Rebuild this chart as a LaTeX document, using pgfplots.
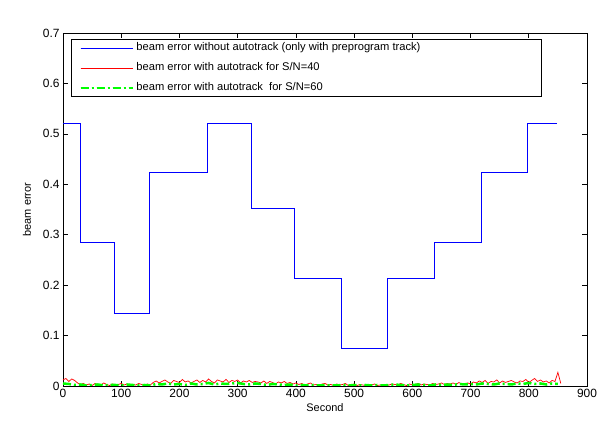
\documentclass[border=0pt]{standalone}
\usepackage{pgfplots}
\pgfplotsset{compat=1.18}
\usepackage{fontspec}
\setmainfont{Liberation Sans}
\begin{document}
\begin{tikzpicture}
\begin{axis}[
  at={(0,0)}, anchor=south west,
  scale only axis, width=524bp, height=353bp,
  xmin=0, xmax=900, ymin=0, ymax=0.7,
  xtick={0,100,200,300,400,500,600,700,800,900},
  ytick={0,0.1,0.2,0.3,0.4,0.5,0.6,0.7},
  yticklabel style={/pgf/number format/.cd, fixed, precision=1},
  tick label style={font=\fontsize{12}{14}\selectfont},
  /pgf/number format/assume math mode=true,
  tick align=inside, major tick length=5bp,
  tick style={black, line width=0.6bp},
  axis line style={black, line width=0.9bp},
  font=\fontsize{11}{13}\selectfont,
  every axis y label/.style={at={(axis description cs:-0.0687,0.5)}, rotate=90, anchor=center},
  every axis x label/.style={at={(axis description cs:0.5,-0.06)}, anchor=center},
  ylabel={beam error}, xlabel={Second},
  legend style={at={(axis description cs:0.0153,0.983)}, anchor=north west,
    draw=black, line width=0.9bp, inner xsep=8bp, inner ysep=1.5bp, row sep=5.3bp,
    nodes={inner ysep=2bp, text height=8bp, text depth=2.5bp, line width=0.4bp},
    font=\fontsize{11.2}{13}\selectfont},
  legend cell align=left,
  legend image code/.code={\draw[#1] (0bp,0bp) -- (48bp,0bp); \path (0bp,0bp) -- (52.5bp,0bp);},
]
\addplot[blue, line width=0.9bp, const plot] coordinates {
(0,0.520) (30,0.284) (89,0.144) (149,0.423) (248,0.520) (323,0.352)
(398,0.213) (478,0.074) (558,0.213) (638,0.284) (718,0.423) (798,0.520) (849,0.520)};
\addlegendentry{\makebox[395bp][l]{beam error without autotrack (only with preprogram track)}}
\addplot[red, line width=0.7bp] table[x expr=\coordindex*5, y index=0, header=false, row sep=\\] {
0.012\\0.015\\0.009\\0.014\\0.011\\0.006\\0.003\\0.005\\0.002\\0.004\\
0.001\\0.005\\0.003\\0.002\\0.006\\0.003\\0.001\\0.004\\0.002\\0.003\\
0.005\\0.002\\0.004\\0.001\\0.003\\0.002\\0.005\\0.003\\0.001\\0.004\\
0.002\\0.007\\0.010\\0.006\\0.009\\0.012\\0.008\\0.005\\0.011\\0.009\\
0.007\\0.013\\0.008\\0.010\\0.006\\0.009\\0.012\\0.007\\0.011\\0.008\\
0.014\\0.009\\0.006\\0.012\\0.010\\0.008\\0.013\\0.007\\0.011\\0.009\\
0.012\\0.006\\0.010\\0.008\\0.011\\0.007\\0.009\\0.008\\0.006\\0.010\\
0.005\\0.009\\0.007\\0.004\\0.008\\0.006\\0.009\\0.005\\0.007\\0.004\\
0.006\\0.003\\0.005\\0.002\\0.004\\0.006\\0.002\\0.003\\0.001\\0.004\\
0.005\\0.002\\0.003\\0.001\\0.004\\0.002\\0.003\\0.005\\0.001\\0.002\\
0.004\\0.001\\0.003\\0.002\\0.001\\0.003\\0.002\\0.004\\0.001\\0.002\\
0.003\\0.001\\0.002\\0.004\\0.003\\0.002\\0.005\\0.003\\0.001\\0.004\\
0.002\\0.003\\0.005\\0.002\\0.004\\0.003\\0.002\\0.005\\0.003\\0.004\\
0.006\\0.003\\0.005\\0.004\\0.006\\0.003\\0.007\\0.004\\0.005\\0.006\\
0.004\\0.008\\0.006\\0.010\\0.007\\0.011\\0.005\\0.009\\0.008\\0.012\\
0.006\\0.010\\0.007\\0.009\\0.011\\0.008\\0.006\\0.010\\0.009\\0.013\\
0.007\\0.011\\0.015\\0.009\\0.012\\0.008\\0.010\\0.006\\0.011\\0.009\\
0.027\\0.005\\
};
\addlegendentry{beam error with autotrack for S/N=40}
\addplot[green, line width=2.5bp, dash pattern=on 8bp off 3bp on 2bp off 3bp] table[x expr=\coordindex*10, y index=0, header=false, row sep=\\] {
0.005\\0.004\\0.002\\0.003\\0.001\\0.002\\0.003\\0.001\\0.002\\0.002\\
0.001\\0.003\\0.002\\0.001\\0.002\\0.001\\0.004\\0.003\\0.005\\0.003\\
0.004\\0.002\\0.005\\0.003\\0.004\\0.006\\0.003\\0.005\\0.004\\0.005\\
0.006\\0.004\\0.003\\0.005\\0.004\\0.002\\0.004\\0.003\\0.002\\0.003\\
0.001\\0.002\\0.001\\0.002\\0.001\\0.002\\0.001\\0.001\\0.002\\0.001\\
0.002\\0.001\\0.002\\0.001\\0.002\\0.001\\0.002\\0.003\\0.002\\0.001\\
0.002\\0.003\\0.002\\0.001\\0.003\\0.002\\0.003\\0.002\\0.004\\0.003\\
0.004\\0.003\\0.005\\0.004\\0.003\\0.005\\0.004\\0.003\\0.005\\0.004\\
0.006\\0.004\\0.005\\0.003\\0.005\\0.004\\
};
\addlegendentry{beam error with autotrack\ \ for S/N=60}
\node[font=\fontsize{11}{13}\selectfont, anchor=center] at (axis description cs:0.368,1.054) {comparison between beam error without autotrack and with autotrack};
\end{axis}
\pgfresetboundingbox
\useasboundingbox (-63bp,-35bp) rectangle (537bp,386bp);
\end{tikzpicture}
\end{document}
